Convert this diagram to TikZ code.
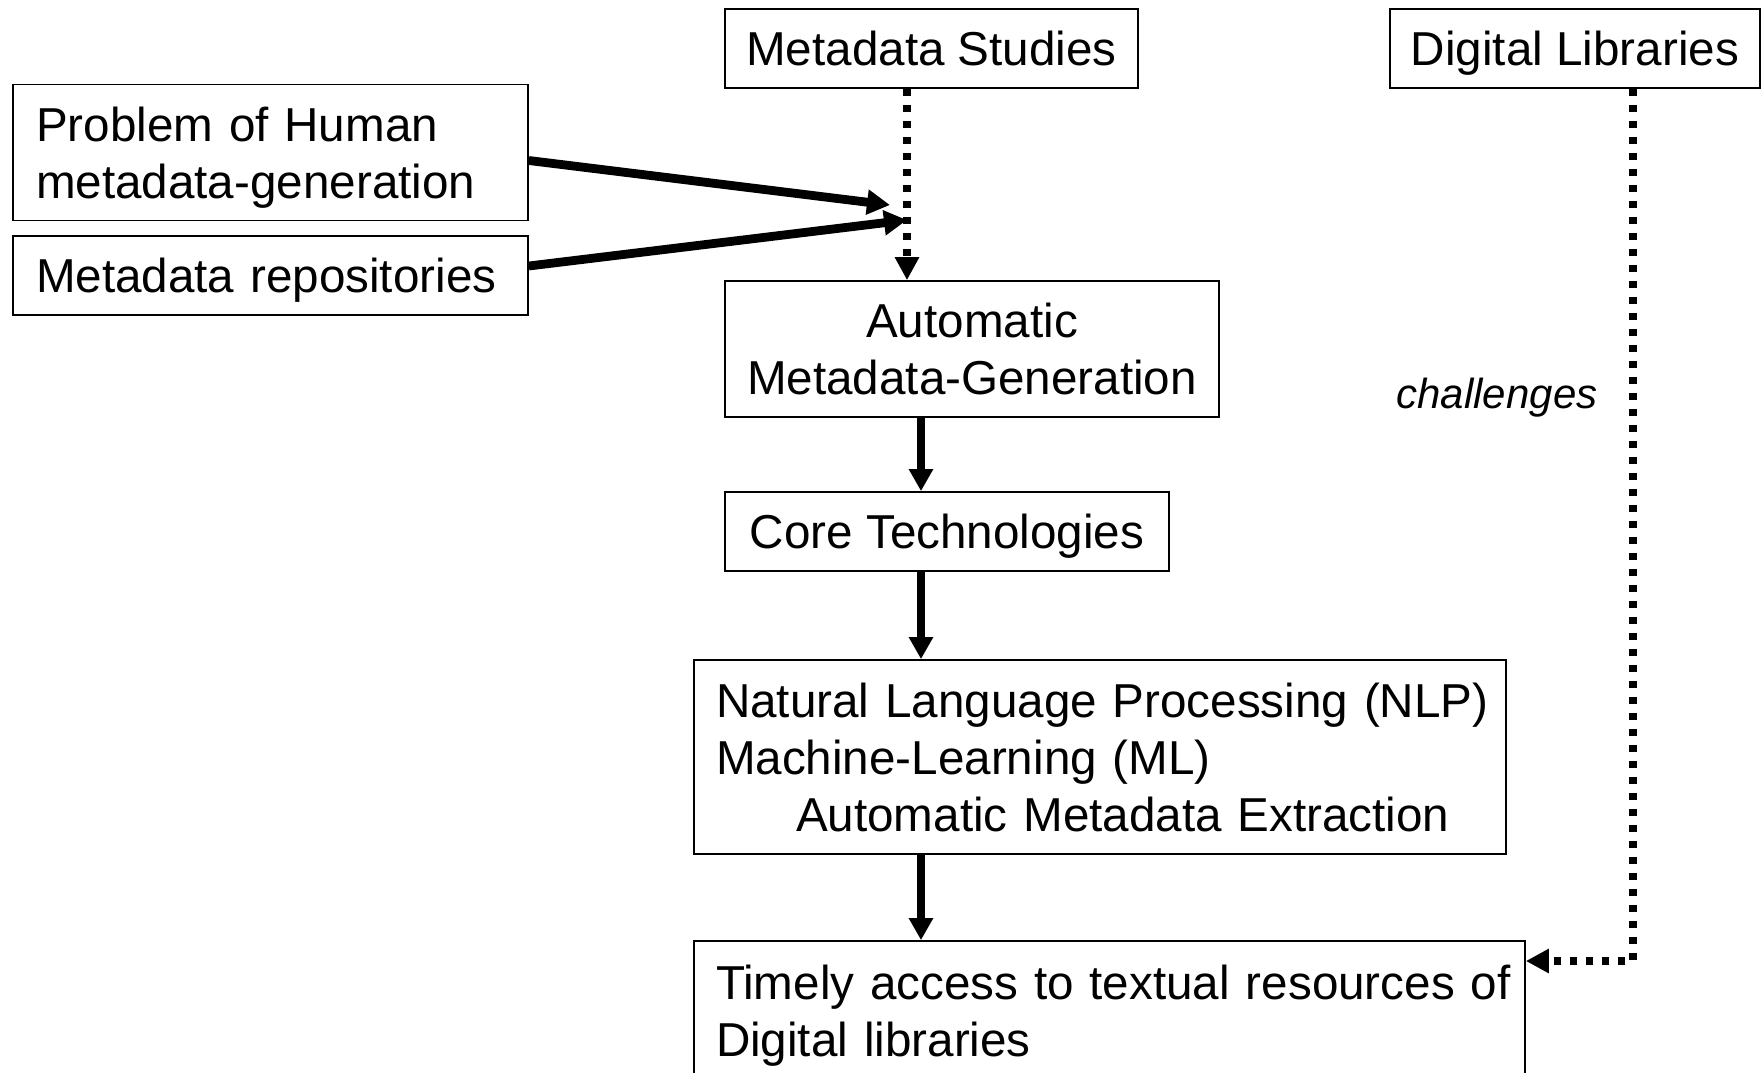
\documentclass[tikz,border=0pt]{standalone}
\usepackage{fontspec}
\setmainfont{Liberation Sans}
\usetikzlibrary{arrows.meta}

\tikzset{
  box/.style={draw, line width=0.85pt, inner ysep=0pt, minimum height=39.5pt,
    text depth=0pt, font=\fontsize{23.8pt}{28.5pt}\selectfont},
  flow/.style={line width=3.6pt, -{Triangle[length=11pt,width=11.5pt]}},
  feed/.style={line width=4.4pt, -{Triangle[length=11.5pt,width=12pt]}},
  dots/.style={line width=3.6pt, dash pattern=on 3.6pt off 4.4pt,
    -{Triangle[length=11.5pt,width=11.5pt]}},
}

\begin{document}
\begin{tikzpicture}[x=0.5pt,y=-0.5pt]
                \useasboundingbox (0,0) rectangle (1762,1072);

                \node[box, minimum width=206.5pt, inner xsep=0pt] (ms) at (931.5,48.5) {Metadata Studies};
                \node[box, minimum width=185pt, inner xsep=0pt] (dl) at (1575,48.5) {Digital Libraries};
                \node[box, text width=234.5pt, inner xsep=11.5pt, align=left, minimum height=68pt, text depth=28.5pt] (prob) at (270.5,152.5) {Problem of Human\\metadata-generation};
                \node[box, text width=234.5pt, inner xsep=11.5pt, align=left] (repo) at (270.5,275.5) {\mbox{Metadata repositories}};
                \node[box, minimum width=247pt, inner xsep=0pt, align=center, minimum height=68pt] (amg) at (972,349) {Automatic\\Metadata-Generation};
                \node[box, minimum width=222pt, inner xsep=0pt] (core) at (947,531.5) {Core Technologies};
                \node[box, text width=384pt, inner xsep=11pt, align=left, minimum height=97pt, text depth=57pt] (nlp) at (1100,757) {\mbox{Natural Language Processing (NLP)}\\\mbox{Machine-Learning (ML)}\\\hspace*{40pt}\mbox{Automatic Metadata Extraction}};
                \node[box, text width=393.5pt, inner xsep=11pt, align=left, minimum height=69.5pt, text depth=28.5pt] (tim) at (1109.5,1010.5) {\mbox{Timely access to textual resources of}\\\mbox{Digital libraries}};
                \node[font=\fontsize{21pt}{25pt}\selectfont\itshape] (chal) at (1497,398) {challenges};

                % meeting points and columns
                \coordinate (j1) at (890,205);
                \coordinate (j2) at (907,220);
                \coordinate (jx) at (907,0);
                \coordinate (cx) at (921,0);
                \coordinate (dturn) at (1633,961);

                \draw[dots] (ms.south -| jx) -- (amg.north -| jx);
                \draw[feed] ([yshift=-4pt]prob.east) -- (j1);
                \draw[feed] ([yshift=4.75pt]repo.east) -- (j2);

                \draw[flow] (amg.south -| cx) -- (core.north -| cx);
                \draw[flow] (core.south -| cx) -- (nlp.north -| cx);
                \draw[flow] (nlp.south -| cx) -- (tim.north -| cx);

                \draw[dots] (dl.south -| dturn) -- (dturn) -- (tim.east |- dturn);
\end{tikzpicture}
\end{document}
